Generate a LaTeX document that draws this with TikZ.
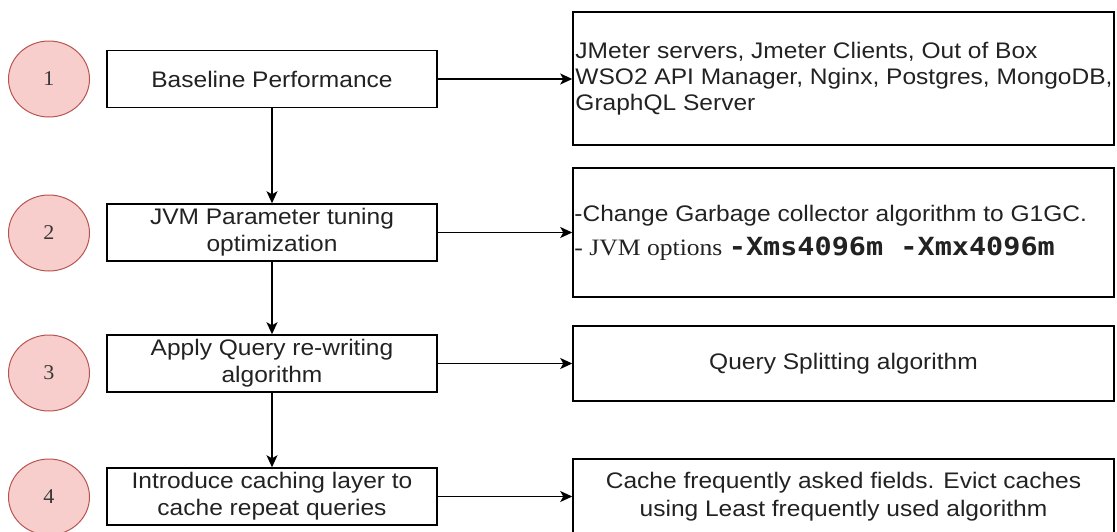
\documentclass[tikz,border=0pt]{standalone}
\usepackage{fontspec}
\setmainfont[FakeStretch=1.09]{Liberation Sans}
\newfontfamily\numfont[FakeStretch=1.05]{Liberation Serif}
\newfontfamily\optserif[FakeStretch=1.09]{Liberation Serif}
\newfontfamily\codefont[FakeStretch=1.14]{DejaVu Sans Mono}
\usetikzlibrary{shapes.geometric,arrows.meta}
\definecolor{stepfill}{HTML}{F8CECC}
\definecolor{stepline}{HTML}{B85450}
\definecolor{ink}{HTML}{222222}

\begin{document}
\begin{tikzpicture}[x=1pt,y=-1pt,
  stepnum/.style={ellipse, draw=stepline, fill=stepfill, line width=1pt,
    minimum width=81pt, minimum height=76pt, inner sep=0pt,
    font=\numfont\fontsize{21}{25}\selectfont, text=ink!90},
  stepbox/.style={draw=black, line width=1.5pt, minimum width=330pt,
    minimum height=57pt, inner sep=2pt, align=center,
    font=\fontsize{22.5}{27}\selectfont, text=ink},
  detailbox/.style={draw=black, line width=1.5pt, minimum width=541pt,
    inner sep=0pt},
  detailtext/.style={inner sep=0pt, text=ink,
    font=\fontsize{22.5}{27}\selectfont},
  flow/.style={line width=1.4pt, draw=black,
    -{Stealth[length=12pt,width=11pt,inset=3pt]}}
]
\useasboundingbox (0,0) rectangle (1117,531);

% numbered step markers
\node[stepnum] (n1) at (49,79) {1};
\node[stepnum] (n2) at (49,233) {2};
\node[stepnum] (n3) at (49,373) {3};
\node[stepnum] (n4) at (49,497) {4};

% optimisation steps
\node[stepbox] (s1) at (272,79) {Baseline Performance};
\node[stepbox] (s2) at (272,232.5) {JVM Parameter tuning\\optimization};
\node[stepbox] (s3) at (272,363.5) {Apply Query re-writing\\algorithm};
\node[stepbox] (s4) at (272,496.5) {Introduce caching layer to\\cache repeat queries};

% details of each step
\node[detailbox, minimum height=133pt] (d1) at (843.5,78.5) {};
\node[detailbox, minimum height=129pt] (d2) at (843.5,232.5) {};
\node[detailbox, minimum height=75pt] (d3) at (843.5,363.5) {};
\node[detailbox, minimum height=76pt] (d4) at (843.5,497) {};

\node[detailtext, anchor=west, align=left, font=\fontsize{22.5}{26}\selectfont]
  (t1) at ([xshift=3pt]d1.west)
  {JMeter servers, Jmeter Clients, Out of Box\\
   WSO2 API Manager, Nginx, Postgres, MongoDB,\\
   GraphQL Server};
\node[detailtext, anchor=west, align=left] (t2) at ([xshift=2pt]d2.west)
  {-Change Garbage collector algorithm to G1GC.\\[7pt]
   {\optserif\fontsize{23.5}{27}\selectfont - JVM options }%
   {\codefont\bfseries\fontsize{25}{27}\selectfont -Xms4096m -Xmx4096m}};
\node[detailtext, align=center] (t3) at (d3.center) {Query Splitting algorithm};
\node[detailtext, align=center, font=\fontsize{22.5}{28}\selectfont]
  (t4) at (d4.center)
  {Cache frequently asked fields. Evict caches\\using Least frequently used algorithm};

% flow between steps
\draw[flow] (s1.south) -- (s2.north);
\draw[flow] (s2.south) -- (s3.north);
\draw[flow] (s3.south) -- (s4.north);

% links to details
\draw[flow] (s1.east) -- (s1.east -| d1.west);
\draw[flow] (s2.east) -- (s2.east -| d2.west);
\draw[flow] (s3.east) -- (s3.east -| d3.west);
\draw[flow] (s4.east) -- (s4.east -| d4.west);
\end{tikzpicture}
\end{document}
